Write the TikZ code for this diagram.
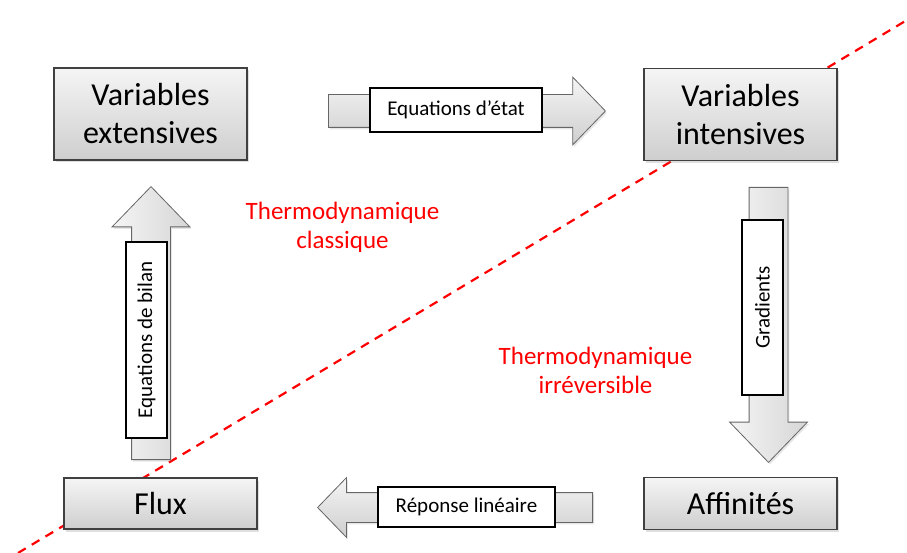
\documentclass[tikz,border=0pt]{standalone}
\usepackage{fontspec}
\setmainfont{Carlito}
\usetikzlibrary{shapes.arrows,shadows}

\begin{document}
\begin{tikzpicture}[
    x=1pt, y=-1pt,
    varbox/.style={draw=black!75, line width=1.2pt, top color=gray!8, bottom color=gray!38, minimum width=193pt, align=center, font=\fontsize{32}{38}\selectfont, drop shadow={opacity=0.25, shadow xshift=2pt, shadow yshift=-2.5pt}},
    bigarrow/.style={single arrow, draw=black!60, line width=0.8pt, inner sep=16pt, single arrow head extend=17.5pt, single arrow head indent=0pt, single arrow tip angle=92, top color=gray!8, bottom color=gray!38, anchor=tail, drop shadow={opacity=0.2, shadow xshift=1.5pt, shadow yshift=-2pt}},
    uparrow/.style={bigarrow, inner sep=19pt, single arrow head extend=19.5pt, single arrow tip angle=88, left color=gray!8, right color=gray!32},
    lbl/.style={draw=black, line width=2.8pt, fill=white, inner sep=0pt, font=\fontsize{21}{25}\selectfont},
    thermo/.style={text=red, align=center, font=\fontsize{25}{29}\selectfont},
]
    \useasboundingbox (0,0) rectangle (907,553);

    \coordinate (d1) at (18,553);
    \coordinate (d2) at (907,20);
    \draw[red, line width=2.2pt, dash pattern=on 9pt off 7pt] (d1) -- (d2);

    \node[varbox, minimum height=92pt] (ext) at (150.5,114) {Variables\\extensives};
    \node[varbox, minimum height=92pt] (int) at (740.5,114.5) {Variables\\intensives};
    \node[varbox, minimum height=51pt] (flux) at (160.5,503.5) {Flux};
    \node[varbox, minimum height=52pt] (aff) at (740.5,503.5) {Affinités};

    \node[bigarrow, minimum height=277pt] (etat) at (328,111) {};
    \node[uparrow, minimum height=275pt, shape border rotate=270] (grad) at (768.5,187) {};
    \node[bigarrow, minimum height=275pt, shape border rotate=180, single arrow head extend=15pt, inner sep=14.5pt] (rep) at (593,507.5) {};
    \node[uparrow, minimum height=273pt, shape border rotate=90] (bilan) at (151,460) {};

    \node[lbl, minimum width=172pt, minimum height=44pt] (etatl) at (456,110) {Equations d’état};
    \node[lbl, minimum width=175pt, minimum height=41pt, rotate=90] (gradl) at (762.5,307.5) {Gradients};
    \node[lbl, minimum width=177pt, minimum height=40pt] (repl) at (466.5,507) {Réponse linéaire};
    \node[lbl, minimum width=196pt, minimum height=41pt, rotate=90] (bilanl) at (146.5,340) {Equations de bilan};

    \node[thermo] (classique) at (342.5,227) {Thermodynamique\\classique};
    \node[thermo] (irrev) at (595.5,370) {Thermodynamique\\irréversible};
\end{tikzpicture}
\end{document}
